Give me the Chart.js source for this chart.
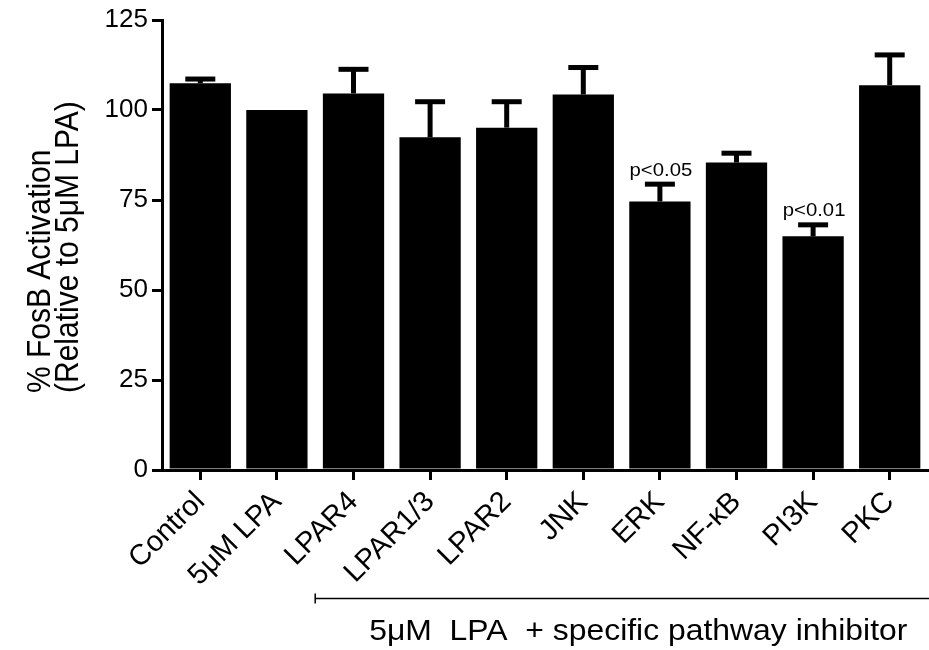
<!DOCTYPE html>
<html>
<head>
<meta charset="utf-8">
<script src="https://cdn.jsdelivr.net/npm/chart.js@4/dist/chart.umd.min.js"></script>
<style>
  html, body { margin: 0; padding: 0; background: #fff; }
  #wrap { width: 929px; height: 650px; }
</style>
</head>
<body>
<div id="wrap"><canvas id="fosb" width="929" height="650"></canvas></div>
<script>
// Treatment groups along the x axis
const categories = ['Control', '5\u03BCM LPA', 'LPAR4', 'LPAR1/3', 'LPAR2', 'JNK', 'ERK', 'NF-\u03BAB', 'PI3K', 'PKC'];
// Mean % FosB activation, relative to 5 µM LPA
const meanValues = [107.4, 100.0, 104.6, 92.4, 95.1, 104.3, 74.6, 85.4, 64.9, 106.9];
// Upper error (SEM) for each group
const semValues = [1.2, 0.0, 6.7, 9.9, 7.2, 7.5, 4.8, 2.6, 3.2, 8.4];
// Significance notes printed above the error bars
const significance = ['', '', '', '', '', '', 'p<0.05', '', 'p<0.01', ''];
// Y axis tick values
const yTicks = [0, 25, 50, 75, 100, 125];
// Axis title lines and group caption
const yTitleLines = ['% FosB Activation', '(Relative to 5\u03BCM LPA)'];
const groupCaption = '5\u03BCM  LPA  + specific pathway inhibitor';
// First category covered by the inhibitor bracket
const bracketStartIndex = 2;

const FONT = "'Liberation Sans', Arial, Helvetica, sans-serif";

// Draws a string with a slight horizontal widening
function wideText(ctx, text, x, y, size, align, sx) {
  ctx.save();
  ctx.font = size + 'px ' + FONT;
  ctx.textAlign = align;
  ctx.textBaseline = 'alphabetic';
  ctx.translate(x, y);
  ctx.scale(sx, 1);
  ctx.fillText(text, 0, 0);
  ctx.restore();
}

const errorBars = {
  id: 'errorBars',
  afterDatasetsDraw(chart) {
    const ctx = chart.ctx;
    const meta = chart.getDatasetMeta(0);
    const y = chart.scales.y;
    ctx.save();
    ctx.fillStyle = '#000';
    meta.data.forEach((bar, i) => {
      const m = meanValues[i];
      const e = semValues[i];
      const x = bar.x;
      const yBar = y.getPixelForValue(m);
      const yTop = y.getPixelForValue(m + e);
      if (e > 0) {
        ctx.fillRect(x - 2.5, yTop, 5, yBar - yTop);
        ctx.fillRect(x - 15, yTop - 2.5, 30, 5);
      }
      if (significance[i]) {
        wideText(ctx, significance[i], x + 1, yTop - 8.5, 18.5, 'center', 1.1);
      }
    });
    ctx.restore();
  }
};

const annotations = {
  id: 'annotations',
  afterDraw(chart) {
    const ctx = chart.ctx;
    const xs = chart.scales.x;
    ctx.save();
    ctx.fillStyle = '#000';
    ctx.strokeStyle = '#000';

    // Y axis title, two lines reading upward, aligned at their start
    ctx.textAlign = 'left';
    ctx.textBaseline = 'alphabetic';
    [[50, yTitleLines[0]], [78, yTitleLines[1]]].forEach(([bx, txt]) => {
      ctx.save();
      ctx.translate(bx, 393);
      ctx.rotate(-Math.PI / 2);
      ctx.scale(1, 1.08);
      ctx.font = '30px ' + FONT;
      ctx.fillText(txt, 0, 0);
      ctx.restore();
    });

    // Bracket under the inhibitor groups
    const bx = (xs.getPixelForTick(bracketStartIndex - 1) + xs.getPixelForTick(bracketStartIndex)) / 2;
    const by = 598.5;
    ctx.lineWidth = 1.5;
    ctx.beginPath();
    ctx.moveTo(bx, by);
    ctx.lineTo(chart.width, by);
    ctx.moveTo(bx, by - 5);
    ctx.lineTo(bx, by + 5);
    ctx.stroke();

    wideText(ctx, groupCaption, bx + 54, 640, 29, 'left', 1.1);
    ctx.restore();
  }
};

new Chart(document.getElementById('fosb'), {
  type: 'bar',
  data: {
    labels: categories,
    datasets: [{
      data: meanValues,
      backgroundColor: '#000',
      borderWidth: 0,
      barPercentage: 0.8,
      categoryPercentage: 1.0
    }]
  },
  options: {
    responsive: false,
    devicePixelRatio: 1,
    animation: false,
    layout: { padding: { top: 20, right: 1, left: 0, bottom: 0 } },
    plugins: {
      legend: { display: false },
      tooltip: { enabled: false },
      title: { display: false }
    },
    scales: {
      x: {
        offset: true,
        grid: { offset: false, drawOnChartArea: false, drawTicks: true, tickLength: 10, color: '#000', lineWidth: 3 },
        border: { color: '#000', width: 3 },
        ticks: {
          color: '#000',
          font: { family: FONT, size: 29 },
          minRotation: 45,
          maxRotation: 45,
          autoSkip: false,
          padding: 5
        },
        afterFit(scale) { scale.height = 180; }
      },
      y: {
        min: 0,
        max: 125,
        grid: { drawOnChartArea: false, drawTicks: true, tickLength: 10, color: '#000', lineWidth: 3 },
        border: { color: '#000', width: 3 },
        ticks: {
          color: '#000',
          font: { family: FONT, size: 26 },
          padding: 4,
          stepSize: 25
        },
        afterBuildTicks(scale) { scale.ticks = yTicks.map(v => ({ value: v })); },
        afterFit(scale) { scale.width = 162; }
      }
    }
  },
  plugins: [errorBars, annotations]
});
</script>
</body>
</html>
